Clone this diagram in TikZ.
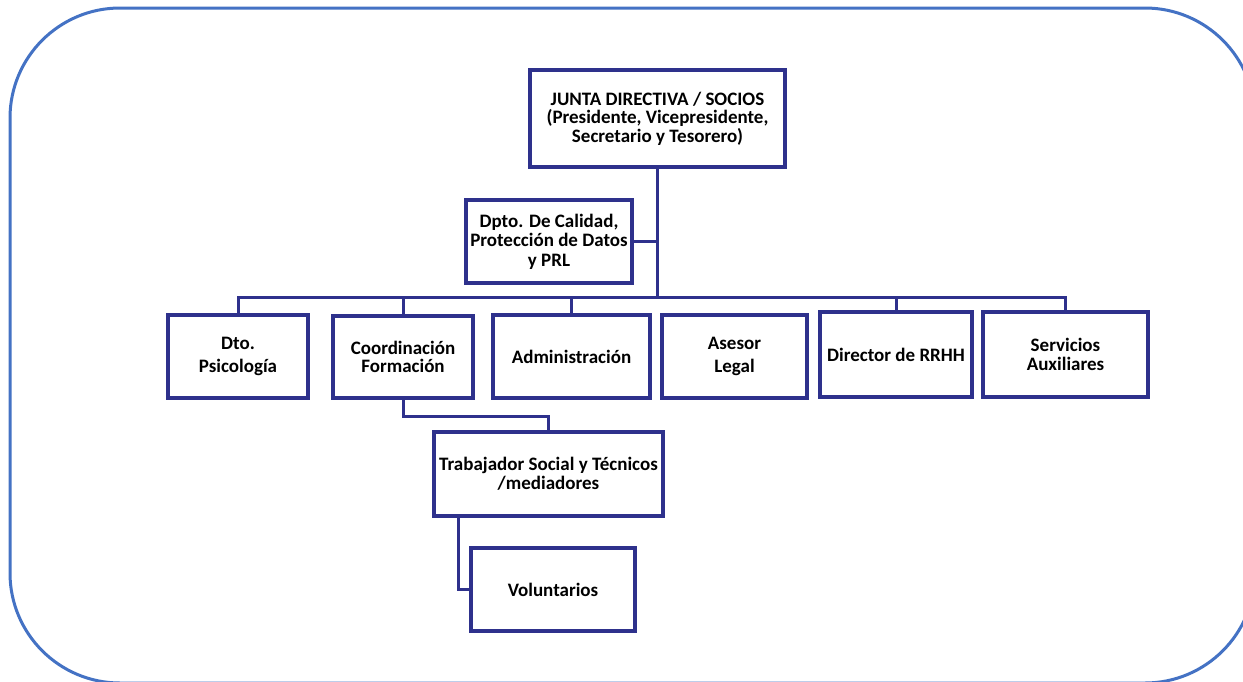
\documentclass[tikz,border=0pt]{standalone}
\usepackage{fontspec}
\setmainfont{Carlito}
\usetikzlibrary{shadows}
\definecolor{navy}{RGB}{46,49,140}
\definecolor{frameblue}{RGB}{68,114,196}
\begin{document}
\begin{tikzpicture}[x=1pt,y=-1pt,
  box/.style={draw=navy, line width=4pt, fill=white, align=center,
    font=\bfseries\fontsize{19}{18.5}\selectfont, inner sep=1pt,
    drop shadow={shadow xshift=1.5pt, shadow yshift=-2pt, opacity=0.35, fill=gray}},
  conn/.style={draw=navy, line width=3pt}]
\clip (0,0) rectangle (1243,681);
\fill[white] (0,0) rectangle (1243,681);
\draw[frameblue, line width=3pt, rounded corners=110pt] (10,8) rectangle (1255,683);

\node[box, minimum width=255pt, minimum height=97pt] (junta) at (657.5,118.5)
  {JUNTA DIRECTIVA / SOCIOS\\ (Presidente, Vicepresidente,\\Secretario y Tesorero)};
\node[box, minimum width=166pt, minimum height=83pt] (dpto) at (549,241.5)
  {Dpto. De Calidad,\\[1pt]Protección de Datos\\[1pt]y PRL};
\node[box, minimum width=140pt, minimum height=83pt] (psic) at (238,356.5)
  {Dto.\\[5pt]Psicología};
\node[box, minimum width=140pt, minimum height=82pt] (coord) at (403,357)
  {Coordinación\\Formación};
\node[box, minimum width=157pt, minimum height=83pt] (admin) at (571.5,356.5)
  {Administración};
\node[box, minimum width=145pt, minimum height=83pt] (asesor) at (734.5,356.5)
  {Asesor\\[4pt]Legal};
\node[box, minimum width=152pt, minimum height=85pt] (rrhh) at (896,354.5)
  {Director de RRHH};
\node[box, minimum width=165pt, minimum height=85pt] (serv) at (1065.5,354.5)
  {Servicios\\Auxiliares};
\node[box, minimum width=229pt, minimum height=84pt] (trab) at (548.5,474)
  {Trabajador Social y Técnicos\\/mediadores};
\node[box, minimum width=164pt, minimum height=83pt] (vol) at (553,589.5)
  {Voluntarios};

\coordinate (bus) at (657.5,297);
\coordinate (ct) at (403,416);

\draw[conn] (junta.south) -- (bus);
\draw[conn] (dpto.east) -- (dpto.east -| bus);
\draw[conn] (psic.north) |- (bus) -| (serv.north);
\draw[conn] (coord.north) -- (coord.north |- bus);
\draw[conn] (admin.north) -- (admin.north |- bus);
\draw[conn] (rrhh.north) -- (rrhh.north |- bus);
\draw[conn] (coord.south) -- (ct) -| (trab.north);
\draw[conn] ([xshift=-90.5pt]trab.south) |- (vol.west);
\end{tikzpicture}
\end{document}
